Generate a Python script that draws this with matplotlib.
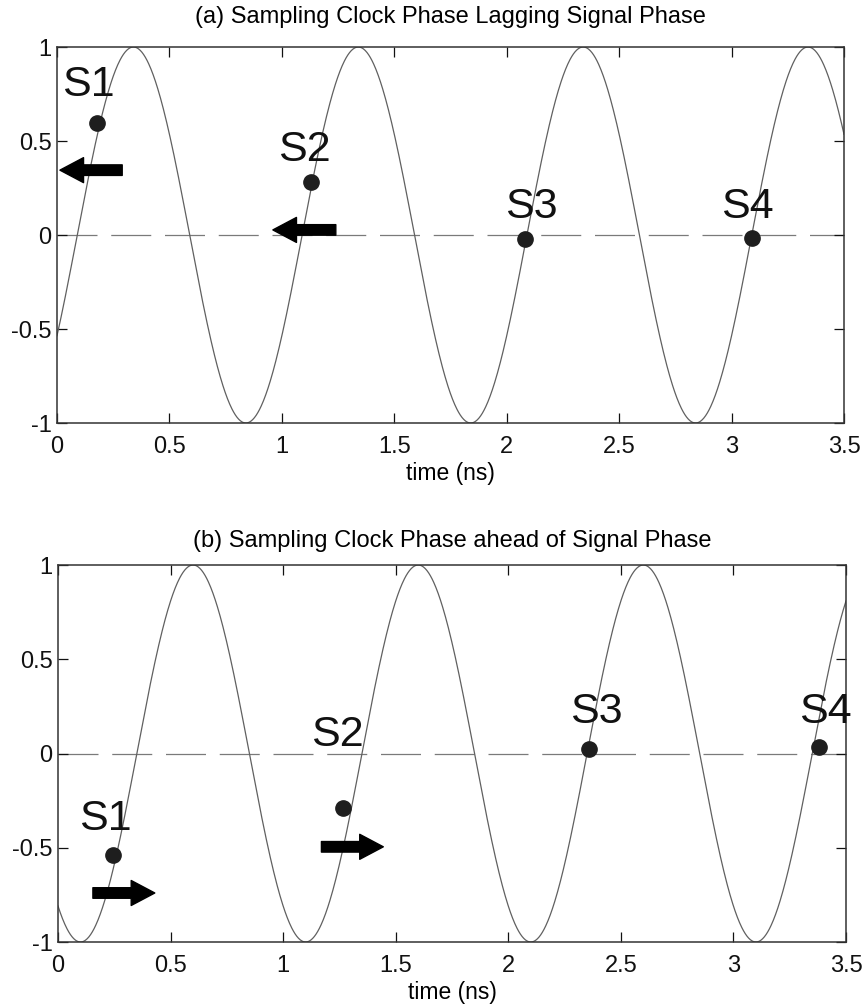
import numpy as np
import matplotlib
matplotlib.use("Agg")
import matplotlib.pyplot as plt

plt.rcParams["font.family"] = ["Liberation Sans", "DejaVu Sans"]

# Signal: 1 GHz sinusoid, rising zero crossing offset per panel (ns)
signal_freq_ghz = 1.0
signal_offsets = [0.09, 0.35]
t_start, t_stop = 0.0, 3.5

titles = ["(a) Sampling Clock Phase Lagging Signal Phase",
          "(b) Sampling Clock Phase ahead of Signal Phase"]

sample_labels = ["S1", "S2", "S3", "S4"]
# sampled points (time ns, amplitude)
samples_t = [[0.18, 1.13, 2.08, 3.09],
             [0.245, 1.265, 2.36, 3.38]]
samples_y = [[0.595, 0.28, -0.02, -0.015],
             [-0.54, -0.29, 0.025, 0.035]]
# label anchor points (time ns, amplitude)
labels_t = [[0.14, 1.10, 2.11, 3.07],
            [0.21, 1.24, 2.39, 3.41]]
labels_y = [[0.80, 0.45, 0.15, 0.15],
            [-0.35, 0.10, 0.22, 0.22]]
# phase correction arrows: (tail_t, tail_y) -> (tip_t, tip_y)
arrow_tail_t = [[0.29, 1.24], [0.155, 1.17]]
arrow_tip_t = [[0.013, 0.96], [0.43, 1.445]]
arrow_y = [[0.345, 0.027], [-0.74, -0.495]]

xticks = [0, 0.5, 1, 1.5, 2, 2.5, 3, 3.5]
xtick_labels = ["0", "0.5", "1", "1.5", "2", "2.5", "3", "3.5"]
yticks = [-1, -0.5, 0, 0.5, 1]
ytick_labels = ["-1", "-0.5", "0", "0.5", "1"]

W, H = 865, 1005
fig = plt.figure(figsize=(W / 100, H / 100), dpi=100)

axes_px = [(57, 47, 844, 423), (58, 565, 846, 942)]
title_y_px = [17, 541]

t = np.linspace(t_start, t_stop, 1400)

for k in range(2):
    x0, y0, x1, y1 = axes_px[k]
    ax = fig.add_axes([x0 / W, 1 - y1 / H, (x1 - x0) / W, (y1 - y0) / H])
    sig = np.sin(2 * np.pi * signal_freq_ghz * (t - signal_offsets[k]))
    ax.plot([t_start, t_stop], [0, 0], color="#7a7a7a", lw=0.9,
            dashes=(32, 11), zorder=1)
    ax.plot(t, sig, color="#606060", lw=0.9, zorder=2)
    ax.plot(samples_t[k], samples_y[k], "o", color="#1e1e1e",
            markersize=11, zorder=4)
    for lab, lt, ly in zip(sample_labels, labels_t[k], labels_y[k]):
        ax.text(lt, ly, lab, fontsize=31, ha="center", va="center",
                color="#111111", zorder=5)
    for tt, tp, ay in zip(arrow_tail_t[k], arrow_tip_t[k], arrow_y[k]):
        ax.annotate("", xy=(tp, ay), xytext=(tt, ay),
                    arrowprops=dict(arrowstyle="simple,head_length=0.85,"
                                               "head_width=0.9,tail_width=0.38",
                                    color="black", shrinkA=0, shrinkB=0,
                                    mutation_scale=20),
                    zorder=6)
    ax.set_xlim(t_start, t_stop)
    ax.set_ylim(-1, 1)
    ax.set_xticks(xticks)
    ax.set_xticklabels(xtick_labels)
    ax.set_yticks(yticks)
    ax.set_yticklabels(ytick_labels)
    ax.tick_params(direction="in", length=7, width=0.9, top=True, right=True,
                   labelsize=17, colors="#111111")
    ax.tick_params(axis="x", pad=9)
    ax.tick_params(axis="y", pad=4)
    for sp in ax.spines.values():
        sp.set_linewidth(1.1)
        sp.set_color("#333333")
    ax.set_xlabel("time (ns)", fontsize=16.5, labelpad=3)
    fig.text((x0 + x1) / 2 / W, 1 - title_y_px[k] / H, titles[k],
             fontsize=17, ha="center", va="center")

fig.savefig("out.png", dpi=100)
